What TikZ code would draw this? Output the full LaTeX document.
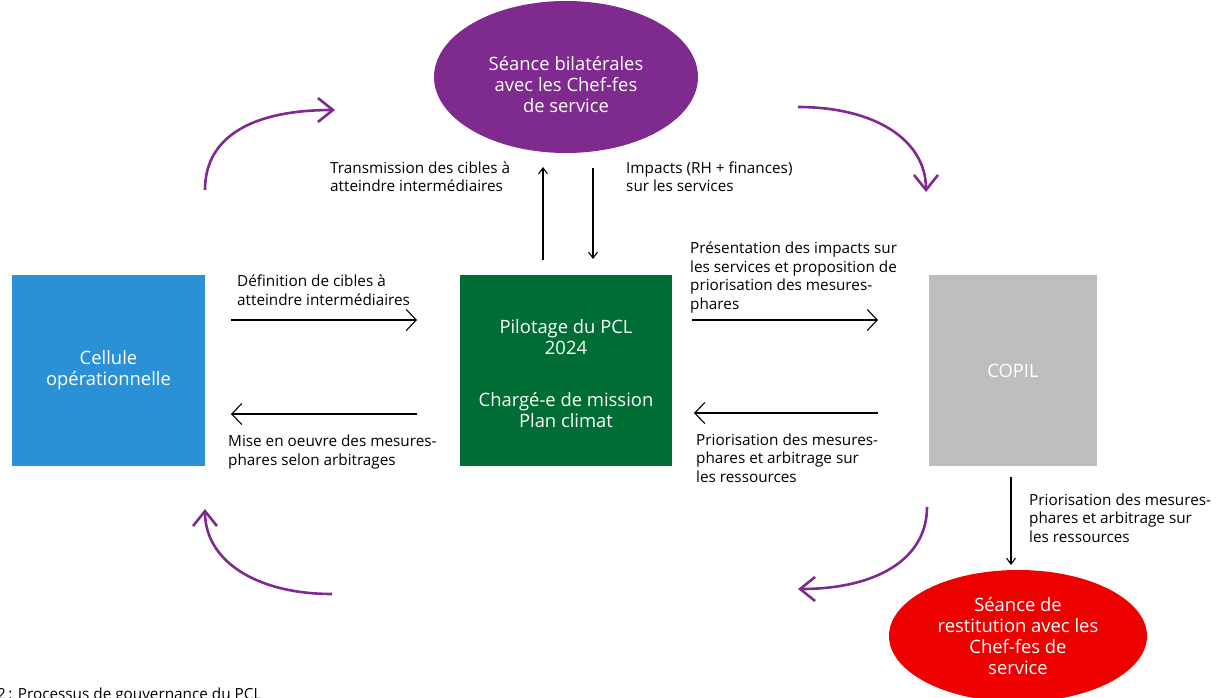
\documentclass[tikz,border=0pt]{standalone}
\usepackage{fontspec}
\setmainfont{Open Sans}
\usetikzlibrary{arrows.meta,shapes.geometric}
\definecolor{cblue}{HTML}{2B91D6}
\definecolor{cgreen}{HTML}{006D34}
\definecolor{cgray}{HTML}{BDBEC0}
\definecolor{cpurple}{HTML}{7E2A8E}
\definecolor{cred}{HTML}{EC0000}
\tikzset{
  boxnode/.style={draw=none,inner sep=0pt,text=white,align=center,font=\fontsize{18.4}{21}\selectfont},
  lbl/.style={inner sep=0pt,anchor=base west,align=left,font=\fontsize{15.3}{18.5}\selectfont},
  harrow/.style={line width=1.1pt,-{Straight Barb[length=10pt,width=21pt,line width=1.1pt]}},
  varrow/.style={line width=1.1pt,-{Straight Barb[length=6pt,width=9pt,line width=1.1pt]}},
  cyc/.style={cpurple,line width=2.6pt,-{Straight Barb[length=15pt,width=24pt,line width=2.6pt]}}
}
\begin{document}
\begin{tikzpicture}[x=1pt,y=-1pt]
\useasboundingbox (0,0) rectangle (1216,698);
% boxes
\node[boxnode,fill=cblue,minimum width=193pt,minimum height=191pt] (cell) at (108.5,370.5) {Cellule\\op\'erationnelle};
\node[boxnode,fill=cgreen,minimum width=212pt,minimum height=191pt] (pilot) at (566,370.5) {};
\node[boxnode] (pilottxt) at (566,374) {Pilotage du PCL\\2024\\[31pt]Charg\'e-e de mission\\Plan climat};
\node[boxnode,fill=cgray,minimum width=168pt,minimum height=191pt] (copil) at (1013,370.5) {COPIL};
% ellipses
\node[ellipse,fill=cpurple,minimum width=264pt,minimum height=152pt,inner sep=0pt] (bilat) at (566,77) {};
\node[boxnode] (bilattxt) at (566,85) {S\'eance bilat\'erales\\avec les Chef-fes\\de service};
\node[ellipse,fill=cred,minimum width=258pt,minimum height=132pt,inner sep=0pt] (resti) at (1018,636) {};
\node[boxnode] (restitxt) at (1018,636) {S\'eance de\\restitution avec les\\Chef-fes de\\service};
% coordinates for straight arrows
\coordinate (a1s) at (231,320); \coordinate (a1e) at (417,320);
\coordinate (a2s) at (417,414); \coordinate (a2e) at (231,414);
\coordinate (a3s) at (543,260); \coordinate (a3e) at (543,167);
\coordinate (a4s) at (593,168); \coordinate (a4e) at (593,259);
\coordinate (a5s) at (692,320); \coordinate (a5e) at (878,320);
\coordinate (a6s) at (878,413); \coordinate (a6e) at (694,413);
\coordinate (a7s) at (1011,477); \coordinate (a7e) at (1011,565);
\draw[harrow] (a1s) -- (a1e);
\draw[harrow] (a2s) -- (a2e);
\draw[varrow] (a3s) -- (a3e);
\draw[varrow] (a4s) -- (a4e);
\draw[harrow] (a5s) -- (a5e);
\draw[harrow] (a6s) -- (a6e);
\draw[varrow] (a7s) -- (a7e);
% labels (anchored at the baseline of their last line)
\node[lbl] (l1) at (237,305) {D\'efinition de cibles \`a\\atteindre interm\'ediaires};
\node[lbl] (l2) at (228,465) {Mise en oeuvre des mesures-\\phares selon arbitrages};
\node[lbl] (l3) at (330,192) {Transmission des cibles \`a\\atteindre interm\'ediaires};
\node[lbl] (l4) at (626,192) {Impacts (RH + finances)\\sur les services};
\node[lbl] (l5) at (690,309) {Pr\'esentation des impacts sur\\les services et proposition de\\priorisation des mesures-\\phares};
\node[lbl] (l6) at (696,482) {Priorisation des mesures-\\phares et arbitrage sur\\les ressources};
\node[lbl] (l7) at (1029,542) {Priorisation des mesures-\\phares et arbitrage sur\\les ressources};
% cycle arrows
\coordinate (c1s) at (205,190); \coordinate (c1e) at (335,110);
\coordinate (c2s) at (798,107); \coordinate (c2e) at (926,192);
\coordinate (c3s) at (927,507); \coordinate (c3e) at (798,589);
\coordinate (c4s) at (332,594); \coordinate (c4e) at (205,509);
\draw[cyc] (c1s) .. controls (205,135) and (255,110) .. (c1e);
\draw[cyc] (c2s) .. controls (875,107) and (926,140) .. (c2e);
\draw[cyc] (c3s) .. controls (927,560) and (875,589) .. (c3e);
\draw[cyc] (c4s) .. controls (255,594) and (205,560) .. (c4e);
% caption
\node[inner sep=0pt,anchor=base west,font=\fontsize{15.3}{18}\selectfont] (cap) at (-3,699) {2\,: Processus de gouvernance du PCL};
\end{tikzpicture}
\end{document}
